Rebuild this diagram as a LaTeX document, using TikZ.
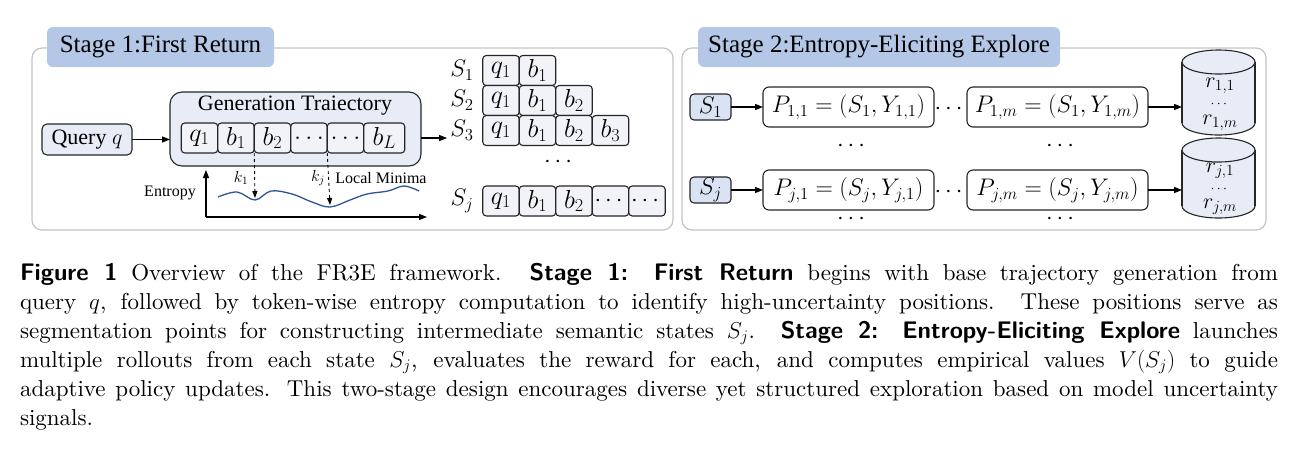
\RequirePackage{fix-cm}
\documentclass[tikz,border=0pt]{standalone}
\usepackage{amsmath}
\usepackage{fontspec}
\newfontfamily\timesfam{Liberation Serif}
\newfontfamily\capserif{lmroman10-regular}[Extension=.otf, BoldFont=lmroman10-bold, ItalicFont=lmroman10-italic]
\usepackage{tikz}
\usetikzlibrary{arrows.meta, positioning, calc}
\definecolor{stagelbl}{RGB}{180,199,231}
\definecolor{panelline}{RGB}{196,196,196}
\definecolor{boxline}{RGB}{38,38,38}
\definecolor{genfill}{RGB}{232,236,246}
\definecolor{tokfill}{RGB}{241,243,249}
\definecolor{sfill}{RGB}{218,227,243}
\definecolor{wavec}{RGB}{47,85,151}
\newcommand\stagefont{\timesfam\fontsize{25}{30}\selectfont}
\newcommand\boxfont{\timesfam\fontsize{22}{26}\selectfont}
\newcommand\tokfont{\fontsize{26}{30}\selectfont}
\newcommand\smalllbl{\timesfam\fontsize{16}{19}\selectfont}
\newcommand\pfont{\fontsize{24}{28}\selectfont}
\newcommand\capfont{\capserif\fontsize{23}{29}\selectfont}
\newcommand\capbf[1]{{\sffamily\bfseries\fontsize{24}{29}\selectfont #1}}

\begin{document}
\begin{tikzpicture}[x=1pt, y=-1pt, every node/.style={outer sep=0pt},
  panel/.style={draw=panelline, line width=1.2pt, rounded corners=10pt, fill=white, inner sep=0pt},
  stagetag/.style={fill=stagelbl, rounded corners=6pt, inner sep=0pt, minimum height=40pt, font=\stagefont},
  qbox/.style={draw=boxline, line width=1.1pt, fill=genfill, rounded corners=5pt, inner sep=0pt, font=\boxfont},
  tok/.style={draw=boxline, line width=1.1pt, fill=tokfill, rounded corners=3.5pt, minimum width=36.5pt,
    minimum height=30pt, inner sep=0pt, font=\tokfont},
  pbox/.style={draw=boxline, line width=1.1pt, fill=white, rounded corners=6pt, minimum height=40pt,
    inner sep=0pt, font=\pfont},
  drum/.style={minimum width=73pt, inner sep=0pt},
  drumline/.style={draw=boxline, line width=1.1pt},
  rlbl/.style={inner sep=0pt, font=\fontsize{22}{26}\selectfont},
  arr/.style={-{Triangle[length=8pt, width=6pt]}, line width=1.1pt},
  darr/.style={-{Triangle[length=7pt, width=5pt]}, dashed, line width=0.9pt}]
\useasboundingbox (0,0) rectangle (1300,456);

% stage 1
\node[panel, minimum width=641pt, minimum height=182pt] (stageone) at (352.5,139) {};
\node[stagetag, minimum width=227pt] (tagone) at (160.5,47) {Stage 1:First Return};
\node[qbox, minimum width=90pt, minimum height=31pt] (query) at (87,139.5) {Query $q$};
\node[qbox, minimum width=251pt, minimum height=74pt, rounded corners=12pt] (gen) at (295.5,129) {};
\node[font=\boxfont] (gentitle) at (295,106) {Generation Traiectory};
\node[tok] (g1) at (199.5,138) {$q_1$};
\node[tok, right=0pt of g1] (g2) {$b_1$};
\node[tok, right=0pt of g2] (g3) {$b_2$};
\node[tok, right=0pt of g3] (g4) {$\ldots$};
\node[tok, right=0pt of g4] (g5) {$\ldots$};
\node[tok, right=0pt of g5, minimum width=41pt] (g6) {$b_L$};
\draw[arr] (query.east) -- (query.east -| gen.west);

% entropy curve
\coordinate (origin) at (206,217);
\coordinate (ytop) at (206,170);
\coordinate (xend) at (427,217);
\draw[arr] (origin) -- (ytop);
\draw[arr] (origin) -- (xend);
\node[font=\smalllbl] (entlbl) at (170,193) {Entropy};
\draw[wavec, line width=1.3pt] plot[smooth, tension=0.6] coordinates {(218,197) (237,192) (255,200)
  (271,191) (292,194) (312,202) (330,207) (350,200) (367,194) (388,191) (404,186) (419,191)};
\coordinate (kone) at (255,198);
\coordinate (kjay) at (330,205);
\draw[darr] (g2.south east) -- (kone);
\draw[darr] (g4.south east) -- (kjay);
\node[font=\fontsize{16}{19}\selectfont] (klbl1) at (241,178) {$k_1$};
\node[font=\fontsize{16}{19}\selectfont] (klblj) at (318,178) {$k_j$};
\node[font=\smalllbl] (minlbl) at (381,178) {Local Minima};

% states
\node[font=\fontsize{24}{28}\selectfont] (sl1) at (462,70) {$S_1$};
\node[font=\fontsize{24}{28}\selectfont] (sl2) at (462,100) {$S_2$};
\node[font=\fontsize{24}{28}\selectfont] (sl3) at (462,130) {$S_3$};
\node[font=\fontsize{24}{28}\selectfont] (slj) at (462,201) {$S_j$};
\node[tok] (a1) at (501,70.5) {$q_1$};
\node[tok, right=0pt of a1] (a2) {$b_1$};
\node[tok] (b1) at (501,100.5) {$q_1$};
\node[tok, right=0pt of b1] (b2) {$b_1$};
\node[tok, right=0pt of b2] (b3) {$b_2$};
\node[tok] (c1) at (501,130.5) {$q_1$};
\node[tok, right=0pt of c1] (c2) {$b_1$};
\node[tok, right=0pt of c2] (c3) {$b_2$};
\node[tok, right=0pt of c3] (c4) {$b_3$};
\node[font=\pfont] (sdots) at (560,162) {$\cdots$};
\node[tok] (d1) at (501,201) {$q_1$};
\node[tok, right=0pt of d1] (d2) {$b_1$};
\node[tok, right=0pt of d2] (d3) {$b_2$};
\node[tok, right=0pt of d3, font=\pfont] (d4) {$\cdots$};
\node[tok, right=0pt of d4, font=\pfont] (d5) {$\cdots$};
\draw[arr] (g6.east -| gen.east) -- (g6.east -| sl3.west);

% stage 2
\node[panel, minimum width=584pt, minimum height=182pt] (stagetwo) at (974,139) {};
\node[stagetag, minimum width=362pt] (tagtwo) at (879,47) {Stage 2:Entropy-Eliciting Explore};
\node[qbox, fill=sfill, minimum width=41pt, minimum height=26pt, rounded corners=4pt,
  font=\fontsize{24}{28}\selectfont] (st1) at (710.5,107) {$S_1$};
\node[qbox, fill=sfill, minimum width=41pt, minimum height=26pt, rounded corners=4pt,
  font=\fontsize{24}{28}\selectfont] (stj) at (710.5,190) {$S_j$};
\node[pbox, minimum width=171pt] (p11) at (848.5,107) {$P_{1,1}=(S_1,Y_{1,1})$};
\node[pbox, minimum width=181pt] (p1m) at (1057.5,107) {$P_{1,m}=(S_1,Y_{1,m})$};
\node[pbox, minimum width=171pt] (pj1) at (848.5,190) {$P_{j,1}=(S_j,Y_{j,1})$};
\node[pbox, minimum width=181pt] (pjm) at (1057.5,190) {$P_{j,m}=(S_j,Y_{j,m})$};
\node[font=\pfont] (hdots1) at (950.5,109) {$\cdots$};
\node[font=\pfont] (hdotsj) at (950.5,192) {$\cdots$};
\node[font=\pfont] (vd1) at (853,146) {$\cdots$};
\node[font=\pfont] (vd2) at (1062,146) {$\cdots$};
\node[font=\pfont] (vd3) at (853,219) {$\cdots$};
\node[font=\pfont] (vd4) at (1062,219) {$\cdots$};
\draw[arr] (st1) -- (p11);
\draw[arr] (stj) -- (pj1);

% reward stores
\node[drum, minimum height=85pt] (cyl1) at (1218.5,92.5) {};
\node[drum, minimum height=80pt] (cyl2) at (1218.5,178) {};
\foreach \c in {cyl1,cyl2}{
  \draw[drumline, fill=genfill] ($(\c.south)+(0,-12)$) ellipse[x radius=36.5pt, y radius=12pt];
  \fill[genfill] ($(\c.north west)+(0,12)$) rectangle ($(\c.south east)+(0,-12)$);
  \draw[drumline] ($(\c.north west)+(0,12)$) -- ($(\c.south west)+(0,-12)$);
  \draw[drumline] ($(\c.north east)+(0,12)$) -- ($(\c.south east)+(0,-12)$);
  \draw[drumline, fill=genfill] ($(\c.north)+(0,12)$) ellipse[x radius=36.5pt, y radius=12pt];
}
\node[rlbl] (r11) at (1220,86) {$r_{1,1}$};
\node[rlbl, font=\fontsize{14}{17}\selectfont] (rd1) at (1220,104) {$\cdots$};
\node[rlbl] (r1m) at (1220,123) {$r_{1,m}$};
\node[rlbl] (rj1) at (1220,171) {$r_{j,1}$};
\node[rlbl, font=\fontsize{14}{17}\selectfont] (rdj) at (1220,189) {$\cdots$};
\node[rlbl] (rjm) at (1220,207) {$r_{j,m}$};
\draw[arr] (p1m.east) -- (p1m.east -| cyl1.west);
\draw[arr] (pjm.east) -- (pjm.east -| cyl2.west);

% caption
\node[anchor=base west, text width=1258pt, align=justify, inner sep=0pt, font=\capfont] (caption) at (20,280)
  {\capbf{Figure 1}\hspace{0.6em}Overview of the FR3E framework. \capbf{Stage 1: First Return}
  begins with base trajectory generation from\linebreak query $q$, followed by token-wise entropy computation
  to identify high-uncertainty positions. These positions serve as\linebreak segmentation points for
  constructing intermediate semantic states $S_j$. \capbf{Stage 2: Entropy-Eliciting Explore}
  launches\linebreak multiple rollouts from each state $S_j$, evaluates the reward for each, and computes
  empirical values $V(S_j)$ to guide\linebreak adaptive policy updates. This two-stage design encourages
  diverse yet structured exploration based on model uncertainty\linebreak signals.};
\end{tikzpicture}
\end{document}
